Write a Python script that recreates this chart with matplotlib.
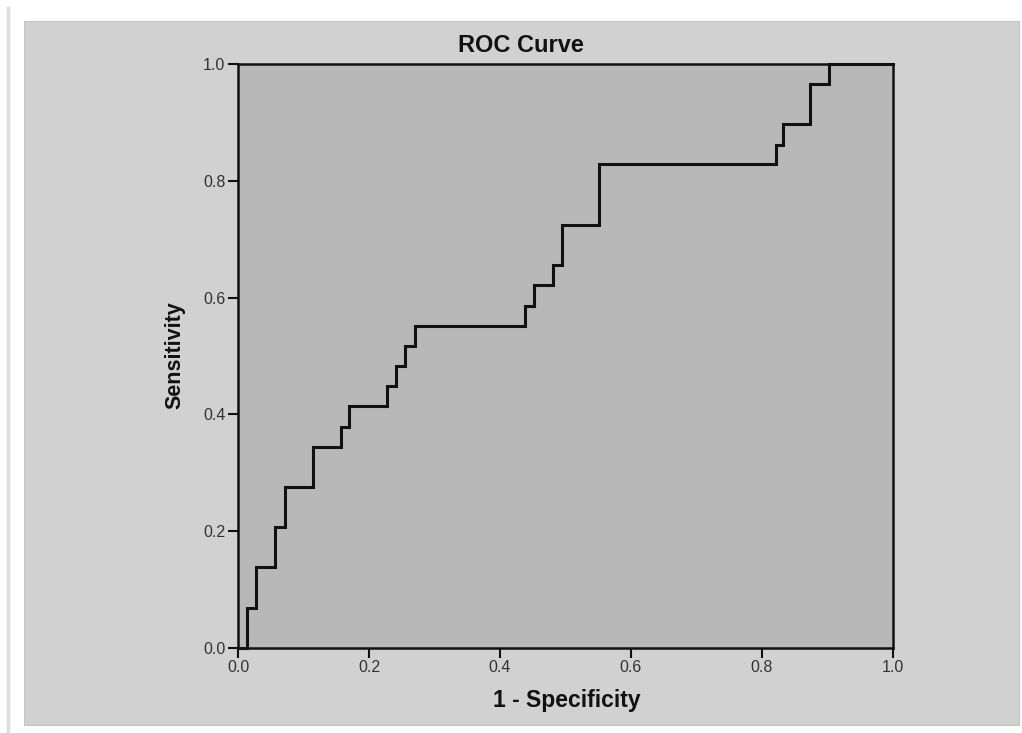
import matplotlib
matplotlib.use("Agg")
import matplotlib.pyplot as plt
from matplotlib.patches import Rectangle
from matplotlib.lines import Line2D

# ROC points (1 - specificity, sensitivity)
fpr = [0.0, 0.014, 0.027, 0.057, 0.071, 0.114, 0.157, 0.169, 0.227, 0.241, 0.255,
       0.270, 0.438, 0.452, 0.481, 0.494, 0.551, 0.821, 0.832, 0.874, 0.902, 1.0]
tpr = [0.0, 0.069, 0.138, 0.207, 0.276, 0.345, 0.379, 0.414, 0.448, 0.483, 0.517,
       0.552, 0.586, 0.621, 0.655, 0.724, 0.828, 0.862, 0.897, 0.966, 1.0, 1.0]
ticks = [0.0, 0.2, 0.4, 0.6, 0.8, 1.0]
tick_labels = ["0.0", "0.2", "0.4", "0.6", "0.8", "1.0"]

plt.rcParams["font.family"] = ["Liberation Sans", "DejaVu Sans"]

W, H = 1022, 733
fig = plt.figure(figsize=(W / 100, H / 100), dpi=100)
fig.patch.set_facecolor("white")

# grey outer panel and the faint rule on the left
fig.patches.append(Rectangle((24 / W, 1 - 725 / H), (1019 - 24) / W, (725 - 21) / H,
                             transform=fig.transFigure, facecolor="#d1d1d1",
                             edgecolor="#c4c4c4", linewidth=0.8, zorder=-2))
fig.lines.append(Line2D([8 / W, 8 / W], [0, 1 - 8 / H], transform=fig.transFigure,
                        color="#dddddd", linewidth=2.5, zorder=-2))

ax = fig.add_axes([238 / W, 1 - 648 / H, (893 - 238) / W, (648 - 64) / H])
ax.set_zorder(1)
ax.set_facecolor("#b8b8b8")
ax.plot(fpr, tpr, drawstyle="steps-post", color="#111111", linewidth=2.2,
        solid_joinstyle="miter", clip_on=False, zorder=3)

ax.set_xlim(0, 1)
ax.set_ylim(0, 1)
ax.set_xticks(ticks)
ax.set_xticklabels(tick_labels)
ax.set_yticks(ticks)
ax.set_yticklabels(tick_labels)
ax.tick_params(direction="out", length=7, width=1.5, colors="#111111",
               labelcolor="#333333", labelsize=11.5, pad=2)
for s in ax.spines.values():
    s.set_color("#111111")
    s.set_linewidth(1.8)

fig.text(521 / W, 1 - 45 / H, "ROC Curve", ha="center", va="center",
         fontsize=17, fontweight="bold", color="#111111")
fig.text(567 / W, 1 - 700 / H, "1 - Specificity", ha="center", va="center",
         fontsize=16.5, fontweight="bold", color="#111111")
fig.text(175 / W, 1 - 355 / H, "Sensitivity", ha="center", va="center",
         rotation=90, fontsize=15.5, fontweight="bold", color="#111111")

fig.savefig("out.png", dpi=100)
